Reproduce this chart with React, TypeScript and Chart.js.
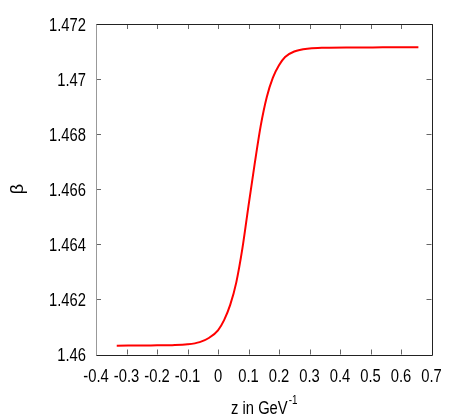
import React, { useEffect, useRef } from "react";
import { Chart, registerables } from "chart.js";

Chart.register(...registerables);

const zValues = [
  -0.332, -0.22, -0.15, -0.1, -0.06, -0.03, 0, 0.02, 0.04, 0.06, 0.08, 0.1,
  0.12, 0.14, 0.16, 0.18, 0.2, 0.22, 0.25, 0.3, 0.35, 0.42, 0.5, 0.58, 0.657,
];
const betaValues = [
  1.46032, 1.46033, 1.46034, 1.46037, 1.46045, 1.4606, 1.46088, 1.46125,
  1.4618, 1.46262, 1.46385, 1.4654, 1.4669, 1.4683, 1.46935, 1.47005, 1.4705,
  1.4708, 1.471, 1.47111, 1.47114, 1.47115, 1.47115, 1.47116, 1.47116,
];
const xTickMin = -0.4;
const xTickMax = 0.7;
const xTickStep = 0.1;
const yTickMin = 1.46;
const yTickMax = 1.472;
const yTickStep = 0.002;
const xTitle = "z in GeV";
const xTitleSup = "-1";
const yTitle = "β";

const FONT = "'Liberation Sans', Arial, sans-serif";
const SQUEEZE = 0.82;

const fmtX = (v: number) => String(Number(v.toFixed(1)));
const fmtY = (v: number) => String(Number(v.toFixed(3)));

function squeezedText(ctx: any, text: string, x: number, y: number, align: string) {
  const w = ctx.measureText(text).width * SQUEEZE;
  let sx = x;
  if (align === "center") sx = x - w / 2;
  else if (align === "right") sx = x - w;
  ctx.save();
  ctx.translate(sx, y);
  ctx.scale(SQUEEZE, 1);
  ctx.textAlign = "left";
  ctx.fillText(text, 0, 0);
  ctx.restore();
  return w;
}

const framePlugin = {
  id: "gnuplotFrame",
  afterDraw(chart: any) {
    const { ctx, chartArea } = chart;
    const { left, right, top, bottom } = chartArea;
    const xs = chart.scales.x;
    const ys = chart.scales.y;
    const tl = 5;
    ctx.save();
    ctx.lineWidth = 1;
    // ticks
    ctx.strokeStyle = "#666";
    ctx.beginPath();
    xs.ticks.forEach((t: any) => {
      const px = Math.round(xs.getPixelForValue(t.value)) + 0.5;
      ctx.moveTo(px, bottom);
      ctx.lineTo(px, bottom - tl);
      ctx.moveTo(px, top);
      ctx.lineTo(px, top + tl);
    });
    ys.ticks.forEach((t: any) => {
      const py = Math.round(ys.getPixelForValue(t.value)) + 0.5;
      ctx.moveTo(left, py);
      ctx.lineTo(left + tl, py);
      ctx.moveTo(right, py);
      ctx.lineTo(right - tl, py);
    });
    ctx.stroke();
    // border
    const L = Math.round(left) + 0.5;
    const R = Math.round(right) + 0.5;
    const T = Math.round(top) + 0.5;
    const B = Math.round(bottom) + 0.5;
    ctx.strokeStyle = "#222";
    ctx.beginPath();
    ctx.moveTo(L, T);
    ctx.lineTo(R, T);
    ctx.lineTo(R, B);
    ctx.lineTo(L, B);
    ctx.stroke();
    ctx.strokeStyle = "#999";
    ctx.beginPath();
    ctx.moveTo(L, T);
    ctx.lineTo(L, B);
    ctx.stroke();
    // tick labels
    ctx.fillStyle = "#000";
    ctx.font = `18px ${FONT}`;
    ctx.textBaseline = "alphabetic";
    xs.ticks.forEach((t: any) => {
      const px = xs.getPixelForValue(t.value);
      squeezedText(ctx, fmtX(t.value), px, 381.5, "center");
    });
    ys.ticks.forEach((t: any) => {
      const py = ys.getPixelForValue(t.value);
      squeezedText(ctx, fmtY(t.value), 86, py + 6.5, "right");
    });
    // titles
    ctx.font = `18px ${FONT}`;
    const mainW = ctx.measureText(xTitle).width * SQUEEZE;
    ctx.font = `12px ${FONT}`;
    const supW = ctx.measureText(xTitleSup).width * SQUEEZE;
    const cx = (left + right) / 2;
    const startX = cx - (mainW + supW) / 2;
    ctx.font = `18px ${FONT}`;
    squeezedText(ctx, xTitle, startX, 414, "left");
    ctx.font = `12px ${FONT}`;
    squeezedText(ctx, xTitleSup, startX + mainW + 1, 404, "left");
    ctx.save();
    ctx.translate(18, 189);
    ctx.rotate(-Math.PI / 2);
    ctx.font = `18px ${FONT}`;
    ctx.textAlign = "center";
    ctx.textBaseline = "middle";
    ctx.fillText(yTitle, 0, 0);
    ctx.restore();
    ctx.restore();
  },
};

export default function App() {
  const ref = useRef<HTMLCanvasElement | null>(null);
  useEffect(() => {
    if (!ref.current) return;
    const chart = new Chart(ref.current, {
      type: "line",
      data: {
        datasets: [
          {
            data: zValues.map((z, i) => ({ x: z, y: betaValues[i] })),
            borderColor: "#ff0000",
            borderWidth: 2,
            pointRadius: 0,
            cubicInterpolationMode: "monotone",
            fill: false,
          },
        ],
      },
      options: {
        responsive: false,
        animation: false,
        layout: { padding: { left: 0, top: 24, right: 25.5, bottom: 0 } },
        plugins: { legend: { display: false }, tooltip: { enabled: false } },
        scales: {
          x: {
            type: "linear",
            min: xTickMin,
            max: xTickMax,
            grid: { display: false, drawTicks: false },
            border: { display: false },
            afterFit: (s: any) => {
              s.height = 60.5;
            },
            ticks: {
              display: false,
              stepSize: xTickStep,
              autoSkip: false,
              maxRotation: 0,
            },
          },
          y: {
            type: "linear",
            min: yTickMin,
            max: yTickMax,
            grid: { display: false, drawTicks: false },
            border: { display: false },
            afterFit: (s: any) => {
              s.width = 96;
            },
            ticks: {
              display: false,
              stepSize: yTickStep,
              autoSkip: false,
            },
          },
        },
      },
      plugins: [framePlugin],
    } as any);
    return () => chart.destroy();
  }, []);
  return (
    <div style={{ position: "fixed", left: 0, top: 0, width: 457, height: 415, background: "#fff" }}>
      <canvas ref={ref} width={457} height={415} style={{ display: "block" }} />
    </div>
  );
}
